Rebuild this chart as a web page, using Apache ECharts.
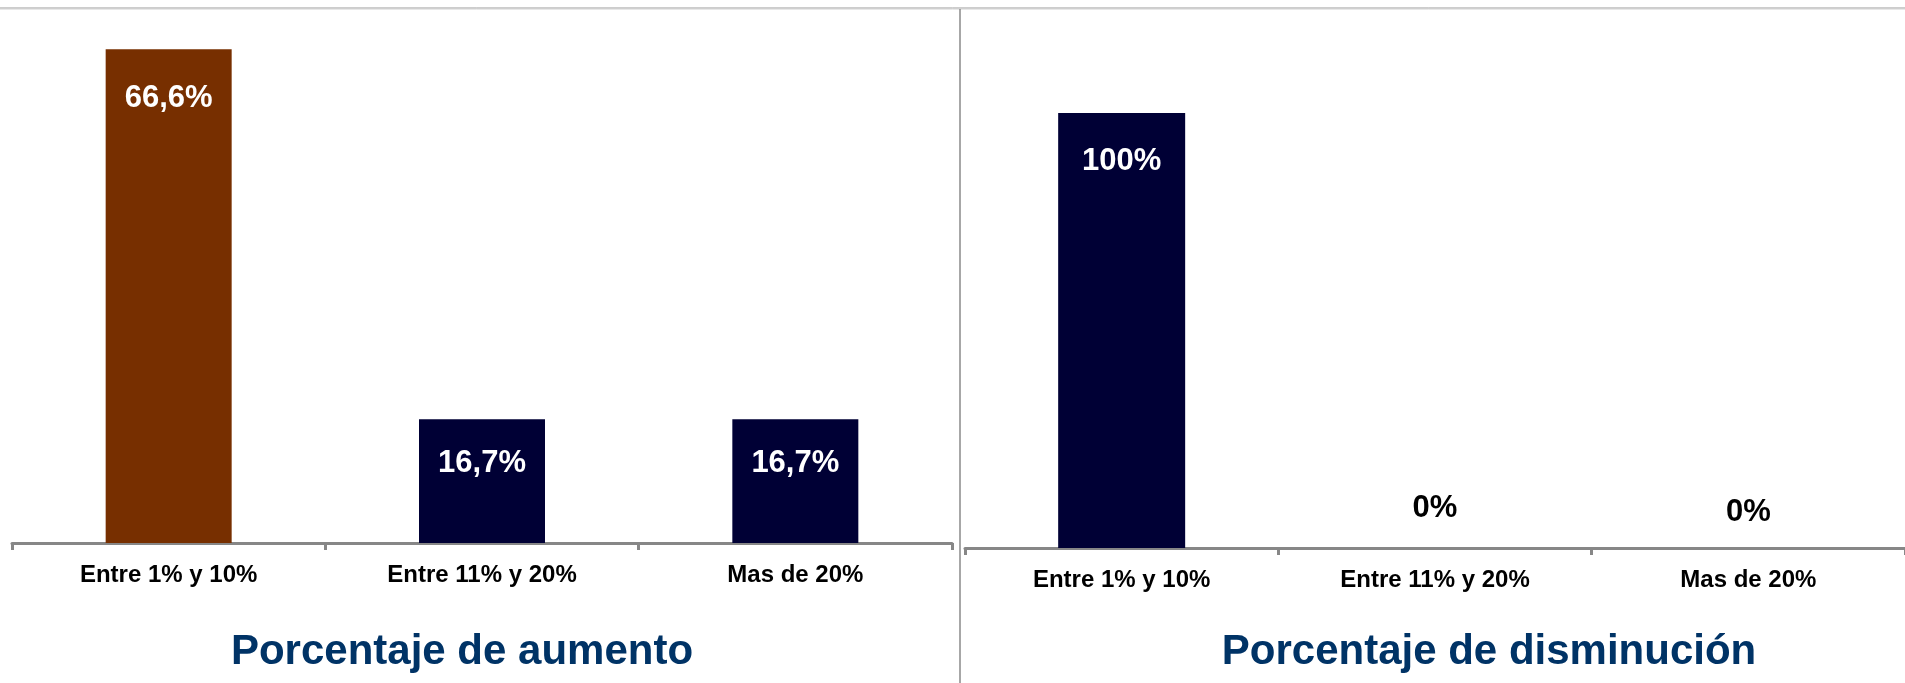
<!DOCTYPE html>
<html>
<head>
<meta charset="utf-8">
<script src="https://cdn.jsdelivr.net/npm/echarts@6/dist/echarts.min.js"></script>
<style>
  html, body { margin: 0; padding: 0; background: #ffffff; }
  #chart { width: 1905px; height: 683px; }
</style>
</head>
<body>
<div id="chart"></div>
<script>
// ---- data ----
const categories = ['Entre 1% y 10%', 'Entre 11% y 20%', 'Mas de 20%'];
const aumentoValues = [66.6, 16.7, 16.7];
const aumentoLabels = ['66,6%', '16,7%', '16,7%'];
const disminucionValues = [100, 0, 0];
const disminucionLabels = ['100%', '0%', '0%'];
const titleAumento = 'Porcentaje de aumento';
const titleDisminucion = 'Porcentaje de disminución';

// ---- styles ----
const FONT = 'Arial, "Liberation Sans", sans-serif';
const BROWN = '#772f00';
const NAVY = '#000035';
const AXIS_GRAY = '#878787';
const TITLE_BLUE = '#003366';
const aumentoDist = [34, 29, 29];
const disminucionDist = [33, 24, 20];

function buildData(values, labels, colors, dists) {
  return values.map(function (v, i) {
    const zero = v === 0;
    return {
      value: v,
      itemStyle: { color: colors[i] },
      label: {
        show: true,
        position: zero ? 'top' : 'insideTop',
        distance: dists[i],
        color: zero ? '#000000' : '#ffffff',
        fontFamily: FONT,
        fontWeight: 'bold',
        fontSize: 31,
        formatter: function () { return labels[i]; }
      }
    };
  });
}

function xAxisCfg(gridIndex) {
  return {
    type: 'category',
    gridIndex: gridIndex,
    data: categories,
    offset: 2,
    axisLine: { show: true, lineStyle: { color: AXIS_GRAY, width: 3 } },
    axisTick: { show: true, length: 7, lineStyle: { color: AXIS_GRAY, width: 3 } },
    axisLabel: {
      margin: 18,
      color: '#000000',
      fontFamily: FONT,
      fontWeight: 'bold',
      fontSize: 24,
      interval: 0
    },
    splitLine: { show: false }
  };
}

function yAxisCfg(gridIndex, max) {
  return {
    type: 'value',
    gridIndex: gridIndex,
    min: 0,
    max: max,
    show: false,
    splitLine: { show: false }
  };
}

const chart = echarts.init(document.getElementById('chart'), null, { renderer: 'canvas' });

const option = {
  backgroundColor: '#ffffff',
  animation: false,
  title: [
    {
      text: titleAumento,
      left: 462,
      top: 631,
      textAlign: 'center',
      padding: 0,
      textStyle: { color: TITLE_BLUE, fontFamily: FONT, fontWeight: 'bold', fontSize: 42 }
    },
    {
      text: titleDisminucion,
      left: 1489,
      top: 631,
      textAlign: 'center',
      padding: 0,
      textStyle: { color: TITLE_BLUE, fontFamily: FONT, fontWeight: 'bold', fontSize: 42 }
    }
  ],
  grid: [
    { left: 12, width: 940, top: 24, bottom: 140, containLabel: false },
    { left: 965, width: 945, top: 113, bottom: 135, containLabel: false }
  ],
  xAxis: [xAxisCfg(0), xAxisCfg(1)],
  yAxis: [yAxisCfg(0, 70), yAxisCfg(1, 100)],
  series: [
    {
      type: 'bar',
      xAxisIndex: 0,
      yAxisIndex: 0,
      barWidth: 126,
      data: buildData(aumentoValues, aumentoLabels, [BROWN, NAVY, NAVY], aumentoDist)
    },
    {
      type: 'bar',
      xAxisIndex: 1,
      yAxisIndex: 1,
      barWidth: 127,
      data: buildData(disminucionValues, disminucionLabels, [NAVY, NAVY, NAVY], disminucionDist)
    }
  ],
  graphic: [
    { type: 'line', shape: { x1: 0, y1: 8, x2: 1905, y2: 8 }, style: { stroke: '#9a9a9a', lineWidth: 1 } },
    { type: 'line', shape: { x1: 0, y1: 9, x2: 1905, y2: 9 }, style: { stroke: '#d2d2d2', lineWidth: 1 } },
    { type: 'line', shape: { x1: 960, y1: 9, x2: 960, y2: 683 }, style: { stroke: '#8a8a8a', lineWidth: 1.5 } }
  ]
};

chart.setOption(option);
</script>
</body>
</html>
